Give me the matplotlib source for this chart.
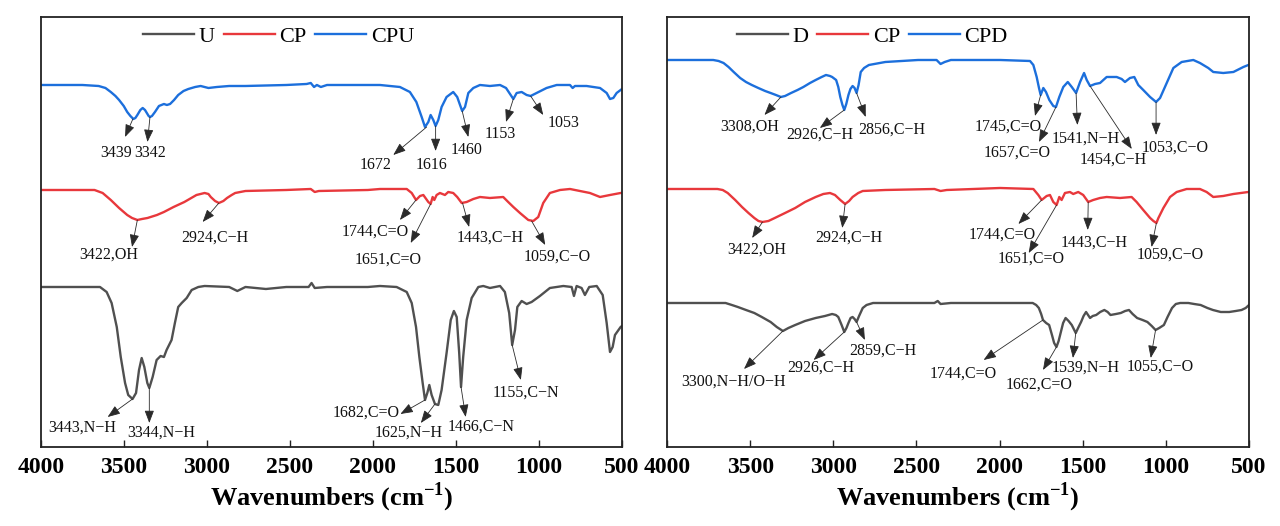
import matplotlib
matplotlib.use("Agg")
import matplotlib.pyplot as plt

plt.rcParams["font.family"] = ["Liberation Serif", "DejaVu Serif"]
plt.rcParams["mathtext.fontset"] = "custom"
plt.rcParams["mathtext.rm"] = "Liberation Serif:bold"
plt.rcParams["mathtext.bf"] = "Liberation Serif:bold"

# ---- spectra (wavenumber cm-1, transmittance in a.u. incl. offset) ----
cpu_w = [4000, 3749, 3651, 3610, 3578, 3550, 3528, 3500, 3479, 3460, 3442, 3430, 3418, 3400,
         3386, 3372, 3361, 3350, 3342, 3330, 3312, 3288, 3258, 3240, 3221, 3197, 3172, 3140,
         3111, 3070, 3037, 2990, 2939, 2865, 2767, 2521, 2399, 2374, 2354, 2337, 2313, 2276,
         2030, 1957, 1837, 1777, 1738, 1706, 1686, 1666, 1652, 1636, 1622, 1606, 1586, 1556,
         1516, 1492, 1475, 1462, 1445, 1425, 1395, 1355, 1295, 1234, 1198, 1170, 1154, 1134,
         1104, 1074, 1050, 1014, 954, 893, 813, 797, 783, 713, 632, 592, 572, 552, 532, 508, 500]
cpu_t = [362, 362, 361, 359, 355, 351, 347, 341, 335, 331, 328, 329, 332, 337,
         339, 337, 334, 331, 330, 331, 335, 341, 343, 342, 343, 347, 352, 356,
         358, 360, 361, 359, 360, 361, 361, 362, 363, 364, 360, 362, 360, 362,
         362, 362, 360, 355, 345, 330, 320, 325, 332, 327, 321, 327, 340, 350,
         355, 350, 342, 336, 340, 354, 359, 362, 361, 362, 359, 352, 348, 354,
         355, 352, 351, 354, 359, 362, 362, 359, 361, 361, 359, 354, 348, 349, 354, 357, 358]

cp_w = [4000, 3676, 3627, 3578, 3528, 3479, 3450, 3418, 3390, 3357, 3300, 3258, 3200, 3135,
        3062, 3013, 2990, 2976, 2950, 2927, 2900, 2878, 2850, 2829, 2767, 2521, 2374, 2350,
        2325, 2030, 1957, 1796, 1766, 1740, 1716, 1696, 1666, 1652, 1640, 1630, 1616, 1596,
        1566, 1546, 1516, 1492, 1465, 1435, 1395, 1355, 1295, 1215, 1185, 1154, 1114, 1064,
        1034, 1004, 974, 934, 873, 813, 753, 693, 632, 572, 508, 500]
cp_t = [257, 257, 254, 247, 239, 232, 229, 227, 228, 229, 232, 235, 240, 245,
        252, 254, 253, 250, 246, 244, 246, 249, 252, 254, 256, 257, 258, 255,
        256, 257, 258, 258, 254, 247, 251, 252, 245, 243, 250, 247, 252, 254,
        252, 255, 254, 250, 244, 245, 248, 250, 249, 250, 245, 240, 234, 227,
        226, 230, 244, 254, 257, 258, 256, 254, 250, 252, 254, 254]

u_w = [4000, 3643, 3603, 3573, 3542, 3518, 3492, 3473, 3447, 3426, 3408, 3392, 3376, 3358,
       3346, 3326, 3302, 3278, 3258, 3242, 3212, 3192, 3172, 3151, 3121, 3091, 3051, 3013,
       2865, 2816, 2767, 2644, 2521, 2387, 2369, 2350, 2276, 2030, 1957, 1857, 1796, 1766,
       1740, 1720, 1700, 1686, 1672, 1660, 1646, 1626, 1606, 1586, 1556, 1531, 1512, 1495,
       1480, 1469, 1456, 1435, 1405, 1365, 1335, 1295, 1234, 1205, 1179, 1161, 1144, 1130,
       1104, 1074, 1044, 994, 934, 853, 803, 789, 773, 743, 723, 697, 652, 616, 592, 572,
       556, 542, 508, 500]
u_t = [160, 160, 155, 144, 120, 90, 64, 52, 48, 54, 77, 89, 80, 64,
       59, 70, 87, 91, 90, 97, 107, 124, 140, 144, 149, 157, 160, 161,
       160, 156, 160, 158, 160, 160, 164, 159, 160, 160, 161, 160, 155, 144,
       120, 90, 64, 47, 54, 62, 52, 43, 42, 57, 94, 127, 136, 130,
       94, 60, 90, 127, 149, 160, 161, 159, 161, 155, 134, 102, 117, 140,
       146, 143, 145, 151, 159, 161, 160, 151, 161, 159, 152, 160, 161, 152, 124, 95,
       100, 112, 120, 121]

cpd_w = [4000, 3722, 3690, 3660, 3630, 3599, 3560, 3525, 3490, 3451, 3410, 3377, 3345, 3315,
         3290, 3254, 3215, 3180, 3140, 3106, 3070, 3044, 3020, 3007, 2983, 2970, 2958, 2945,
         2934, 2922, 2909, 2897, 2884, 2872, 2860, 2848, 2835, 2815, 2786, 2687, 2490, 2379,
         2355, 2330, 2293, 1997, 1817, 1797, 1777, 1763, 1753, 1737, 1721, 1701, 1677, 1661,
         1641, 1617, 1590, 1566, 1540, 1516, 1492, 1476, 1456, 1426, 1396, 1356, 1296, 1266,
         1246, 1216, 1190, 1166, 1136, 1095, 1059, 1035, 995, 955, 905, 835, 795, 745, 715,
         655, 594, 534, 504, 500]
cpd_t = [387, 387, 386, 384, 380, 375, 369, 365, 362, 359, 356, 354, 352, 350,
         351, 354, 357, 360, 364, 367, 370, 372, 371, 370, 367, 360, 350, 342,
         337, 343, 352, 358, 361, 359, 354, 362, 375, 379, 382, 385, 387, 387,
         383, 385, 387, 387, 386, 382, 370, 359, 352, 359, 355, 347, 341, 340,
         350, 360, 365, 360, 354, 365, 374, 367, 361, 363, 364, 370, 370, 368,
         365, 369, 370, 362, 357, 350, 345, 349, 364, 379, 385, 387, 384, 379, 375,
         374, 375, 380, 382, 382]

cp2_w = [4000, 3697, 3665, 3635, 3590, 3549, 3510, 3475, 3450, 3426, 3390, 3352, 3290, 3229,
         3170, 3106, 3060, 3020, 2990, 2958, 2929, 2905, 2884, 2850, 2823, 2687, 2392, 2355,
         2318, 1997, 1797, 1767, 1747, 1717, 1697, 1677, 1657, 1641, 1627, 1607, 1577, 1557,
         1527, 1497, 1467, 1437, 1396, 1356, 1276, 1206, 1176, 1136, 1095, 1075, 1057, 1045,
         1015, 975, 935, 875, 795, 755, 715, 655, 594, 504, 500]
cp2_t = [258, 258, 257, 254, 247, 240, 234, 229, 226, 225, 226, 229, 234, 239,
         245, 250, 253, 254, 252, 247, 243, 246, 250, 254, 256, 257, 258, 256,
         257, 259, 258, 252, 247, 251, 252, 245, 242, 250, 247, 254, 255, 253,
         255, 252, 245, 247, 249, 250, 249, 250, 245, 237, 229, 226, 224, 229,
         239, 250, 255, 258, 258, 255, 250, 251, 253, 255, 255]

d_w = [4000, 3648, 3610, 3574, 3525, 3475, 3430, 3377, 3340, 3303, 3270, 3229, 3170, 3106,
       3050, 3007, 2985, 2970, 2950, 2934, 2921, 2909, 2896, 2884, 2872, 2860, 2845, 2823,
       2800, 2761, 2564, 2392, 2372, 2355, 2293, 1801, 1780, 1764, 1750, 1739, 1720, 1702,
       1685, 1672, 1658, 1645, 1633, 1618, 1603, 1585, 1566, 1542, 1525, 1510, 1495, 1480,
       1468, 1456, 1440, 1419, 1395, 1370, 1350, 1333, 1300, 1271, 1245, 1222, 1200, 1173,
       1140, 1111, 1085, 1062, 1040, 1012, 990, 963, 940, 914, 865, 830, 791, 750, 717,
       670, 619, 580, 545, 520, 500]
d_t = [144, 144, 142, 140, 137, 134, 130, 125, 120, 116, 119, 122, 126, 129,
       131, 133, 132, 130, 122, 115, 119, 124, 129, 130, 128, 125, 131, 139,
       142, 144, 144, 144, 146, 143, 144, 144, 142, 139, 133, 127, 124, 122,
       112, 104, 100, 106, 114, 124, 129, 126, 122, 114, 120, 125, 131, 135,
       132, 129, 131, 132, 135, 137, 135, 132, 133, 134, 136, 137, 133, 129,
       127, 125, 121, 117, 119, 122, 130, 139, 143, 144, 144, 143, 142, 139, 137,
       135, 135, 136, 137, 139, 142]

# ---- peak labels: (text, text_w, text_t, peak_w, peak_t, head_w, head_t) ----
left_notes = [
    ("3439", 3548, 294, 3445, 328, 3492, 310),
    ("3342", 3344, 294, 3342, 330, 3357, 305),
    ("1672", 1981, 282, 1676, 320, 1877, 292),
    ("1616", 1647, 282, 1622, 321, 1622, 296),
    ("1460", 1438, 297, 1462, 336, 1425, 310),
    ("1153", 1232, 313, 1154, 348, 1198, 325),
    ("1053", 854, 324, 1050, 351, 974, 332),
    ("3422,OH", 3590, 192, 3418, 227, 3450, 200),
    ("2924,C\u2212H", 2951, 209, 2927, 244, 3025, 225),
    ("1744,C=O", 1986, 215, 1740, 247, 1837, 227),
    ("1651,C=O", 1907, 187, 1652, 243, 1772, 204),
    ("1443,C\u2212H", 1293, 209, 1460, 244, 1420, 220),
    ("1059,C\u2212O", 888, 190, 1044, 226, 962, 202),
    ("3443,N\u2212H", 3749, 19, 3447, 48, 3597, 30),
    ("3344,N\u2212H", 3275, 14, 3346, 59, 3346, 24),
    ("1682,C=O", 2043, 34, 1686, 47, 1834, 33),
    ("1625,N\u2212H", 1785, 14, 1626, 43, 1711, 24),
    ("1466,C\u2212N", 1348, 20, 1469, 60, 1441, 30),
    ("1155,C\u2212N", 1079, 54, 1161, 102, 1109, 67),
]
right_notes = [
    ("3308,OH", 3505, 320, 3315, 350, 3414, 332),
    ("2926,C\u2212H", 3081, 312, 2934, 337, 3081, 319),
    ("2856,C\u2212H", 2650, 317, 2860, 354, 2805, 330),
    ("1745,C=O", 1948, 320, 1753, 352, 1787, 331),
    ("1657,C=O", 1894, 294, 1661, 340, 1763, 305),
    ("1541,N\u2212H", 1484, 308, 1540, 354, 1532, 322),
    ("1454,C\u2212H", 1314, 287, 1456, 361, 1205, 298),
    ("1053,C\u2212O", 945, 299, 1059, 345, 1059, 312),
    ("3422,OH", 3463, 197, 3426, 225, 3488, 209),
    ("2924,C\u2212H", 2904, 209, 2929, 243, 2946, 219),
    ("1744,C=O", 1985, 212, 1747, 247, 1887, 223),
    ("1651,C=O", 1813, 188, 1657, 242, 1825, 194),
    ("1443,C\u2212H", 1431, 204, 1467, 245, 1470, 217),
    ("1059,C\u2212O", 976, 192, 1057, 224, 1086, 200),
    ("3300,N\u2212H/O\u2212H", 3599, 65, 3303, 116, 3537, 78),
    ("2926,C\u2212H", 3076, 79, 2934, 115, 3118, 87),
    ("2859,C\u2212H", 2700, 96, 2860, 125, 2810, 107),
    ("1744,C=O", 2219, 73, 1739, 127, 2096, 87),
    ("1662,C=O", 1764, 62, 1658, 100, 1739, 77),
    ("1539,N\u2212H", 1480, 79, 1542, 114, 1559, 89),
    ("1055,C\u2212O", 1037, 80, 1062, 117, 1091, 89),
]

GRAY = "#505050"
RED = "#e8383c"
BLUE = "#1c6fdc"


def draw_panel(ax, series, labels, notes, legend_x):
    for (w, t), name, color in zip(series, labels, [GRAY, RED, BLUE]):
        ax.plot(w, t, color=color, lw=1.7, label=name, solid_joinstyle="round")
    for text, tx, ty, px, py, hx, hy in notes:
        ax.annotate("", xy=(hx, hy), xytext=(px, py),
                    arrowprops=dict(arrowstyle="-|>,head_length=0.45,head_width=0.17",
                                    color="#2a2a2a", lw=0.6,
                                    mutation_scale=17, shrinkA=0, shrinkB=0))
        ax.text(tx, ty, text, fontsize=11.5, ha="center", va="center", color="#111111")
    ax.set_xlim(4000, 500)
    ax.set_ylim(0, 430)
    ax.set_yticks([])
    ax.set_xticks([4000, 3500, 3000, 2500, 2000, 1500, 1000, 500])
    ax.tick_params(axis="x", direction="in", length=5, width=1.0, pad=7,
                   labelsize=17, color="#222222")
    for lab in ax.get_xticklabels():
        lab.set_fontweight("bold")
    for sp in ax.spines.values():
        sp.set_linewidth(1.3)
        sp.set_color("#222222")
    ax.set_xlabel(r"Wavenumbers (cm$^{\mathbf{-1}}$)", fontsize=19,
                  fontweight="bold", labelpad=2)
    ax.legend(loc="center left", bbox_to_anchor=(legend_x, 0.955), ncol=3,
              frameon=False, fontsize=16, handlelength=2.3, handletextpad=0.2,
              columnspacing=0.4, borderpad=0, borderaxespad=0)


fig = plt.figure(figsize=(12.8, 5.26), dpi=100)
ax1 = fig.add_axes([0.0318, 0.1502, 0.4541, 0.8175])
ax2 = fig.add_axes([0.5211, 0.1502, 0.4547, 0.8175])

draw_panel(ax1, [(u_w, u_t), (cp_w, cp_t), (cpu_w, cpu_t)], ["U", "CP", "CPU"],
           left_notes, 0.176)
draw_panel(ax2, [(d_w, d_t), (cp2_w, cp2_t), (cpd_w, cpd_t)], ["D", "CP", "CPD"],
           right_notes, 0.12)

fig.savefig("out.png", dpi=100)
